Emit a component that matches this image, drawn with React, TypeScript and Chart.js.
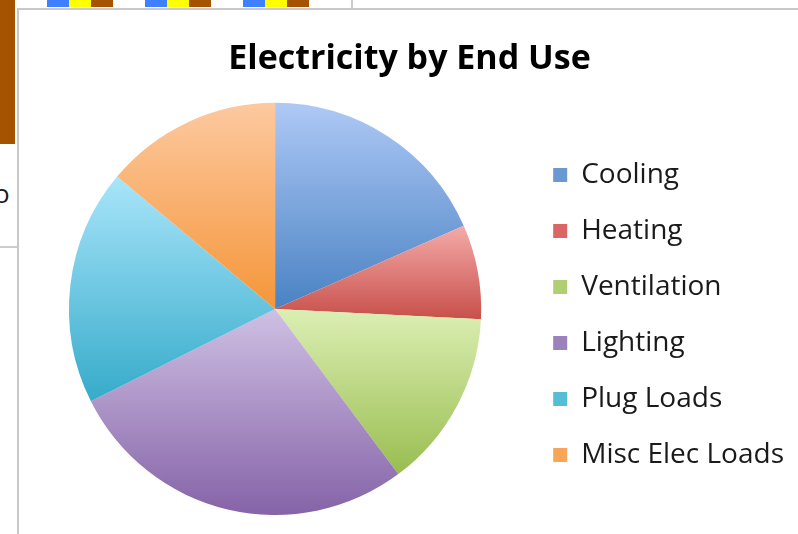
import React, { useEffect, useRef } from "react";
import { Chart, registerables } from "chart.js";

Chart.register(...registerables);

// Share of electricity consumption by end use (percent)
const labels = ["Cooling", "Heating", "Ventilation", "Lighting", "Plug Loads", "Misc Elec Loads"];
const shares = [18.4, 7.4, 14.0, 27.8, 18.5, 13.9];

// Each slice is shaded from a light tint at its top to a deeper tone at its bottom
const topColors = ["#aec9f6", "#f4aba9", "#dcefb4", "#cfc0e4", "#a9e5fa", "#fdc9a0"];
const bottomColors = ["#4a82c3", "#c84f4a", "#99bd50", "#8563a7", "#36abca", "#f5963a"];
const legendColors = ["#6a98d2", "#da6763", "#b0cf74", "#9b82bb", "#55bdd7", "#f7a558"];

// Strip of bars from the neighbouring sheet chart peeking in at the top edge
const stripGroups = [47, 145, 243];
const stripColors = ["#3f80ff", "#ffff00", "#a65300"];

const FONT = "'Open Sans', Lato, 'DejaVu Sans', sans-serif";

function sliceGradient(context: any) {
  const chart = context.chart;
  const area = chart.chartArea;
  const i = context.dataIndex;
  if (!area || i === undefined) return legendColors[i ?? 0];
  const data: number[] = context.dataset.data;
  const total = data.reduce((a, b) => a + b, 0);
  const cx = (area.left + area.right) / 2;
  const cy = (area.top + area.bottom) / 2;
  const r = Math.min(area.width, area.height) / 2;
  let before = 0;
  for (let k = 0; k < i; k++) before += data[k];
  const a0 = -Math.PI / 2 + (2 * Math.PI * before) / total;
  const a1 = a0 + (2 * Math.PI * data[i]) / total;
  const ys = [cy, cy + r * Math.sin(a0), cy + r * Math.sin(a1)];
  const within = (a: number) => {
    for (let t = a; t <= a1 + 1e-9; t += 2 * Math.PI) if (t >= a0) return true;
    return false;
  };
  if (within(-Math.PI / 2)) ys.push(cy - r);
  if (within(Math.PI / 2)) ys.push(cy + r);
  const yTop = Math.min(...ys);
  const yBot = Math.max(...ys);
  const g = chart.ctx.createLinearGradient(0, yTop, 0, yBot);
  g.addColorStop(0, topColors[i]);
  g.addColorStop(1, bottomColors[i]);
  return g;
}

function PieChart() {
  const ref = useRef<HTMLCanvasElement | null>(null);
  useEffect(() => {
    if (!ref.current) return;
    const chart = new Chart(ref.current, {
      type: "pie",
      data: {
        labels,
        datasets: [
          {
            data: shares,
            backgroundColor: sliceGradient as any,
            borderWidth: 0,
          },
        ],
      },
      options: {
        responsive: false,
        animation: false,
        events: [],
        layout: { padding: { left: 6, right: 4, top: 0, bottom: 19 } },
        plugins: {
          title: {
            display: true,
            text: "Electricity by End Use",
            color: "#000000",
            font: { family: FONT, size: 34, weight: "bold" },
            padding: { top: 29, bottom: 23 },
          },
          legend: {
            position: "right",
            // empty legend heading keeps the key list centred beside the pie
            title: { display: true, text: "", font: { size: 10 }, padding: { top: 93, bottom: 0 } },
            labels: {
              color: "#1a1a1a",
              font: { family: FONT, size: 28 },
              boxWidth: 14,
              boxHeight: 14,
              padding: 28,
              generateLabels: () =>
                labels.map((text, index) => ({
                  text,
                  index,
                  fillStyle: legendColors[index],
                  strokeStyle: legendColors[index],
                  lineWidth: 0,
                  hidden: false,
                  fontColor: "#1a1a1a",
                })),
            },
          },
          tooltip: { enabled: false },
        },
      },
    });
    return () => chart.destroy();
  }, []);
  return <canvas ref={ref} width={779} height={524} style={{ display: "block" }} />;
}

export default function App() {
  return (
    <div
      style={{
        position: "fixed",
        left: 0,
        top: 0,
        width: 798,
        height: 534,
        overflow: "hidden",
        background: "#ffffff",
        fontFamily: FONT,
      }}
    >
      {/* sheet background behind the chart */}
      <div style={{ position: "absolute", left: 0, top: 0, width: 15, height: 144, background: "#a65300" }} />
      <div style={{ position: "absolute", left: 0, top: 246, width: 17, height: 2, background: "#cccccc" }} />
      <div style={{ position: "absolute", left: -6, top: 178, fontSize: 26, color: "#1a1a1a", lineHeight: "30px" }}>o</div>
      {stripGroups.map((x, g) =>
        stripColors.map((c, k) => (
          <div
            key={`${g}-${k}`}
            style={{ position: "absolute", left: x + k * 22, top: 0, width: 22, height: 7, background: c }}
          />
        ))
      )}
      <div style={{ position: "absolute", left: 351, top: 0, width: 2, height: 8, background: "#cccccc" }} />
      {/* chart frame */}
      <div style={{ position: "absolute", left: 17, top: 8, width: 2, height: 526, background: "#c8c8c8" }} />
      <div style={{ position: "absolute", left: 17, top: 8, width: 781, height: 2, background: "#c8c8c8" }} />
      <div style={{ position: "absolute", left: 19, top: 10 }}>
        <PieChart />
      </div>
    </div>
  );
}
